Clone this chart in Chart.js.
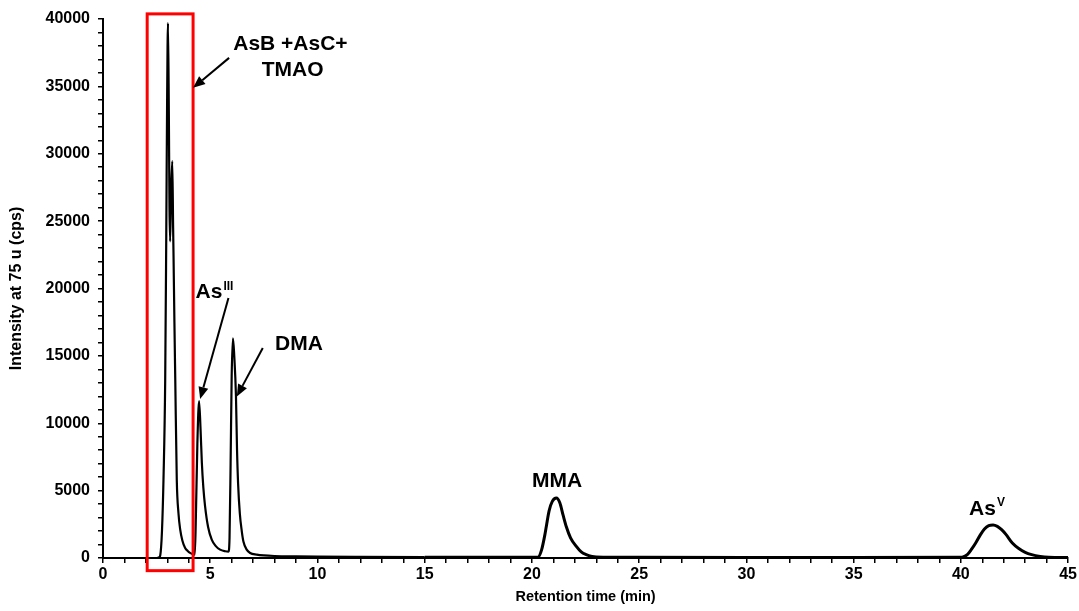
<!DOCTYPE html>
<html>
<head>
<meta charset="utf-8">
<script src="https://cdn.jsdelivr.net/npm/chart.js@4/dist/chart.umd.min.js"></script>
<style>
  html, body { margin: 0; padding: 0; background: #ffffff; }
  #wrap { width: 1079px; height: 611px; }
</style>
</head>
<body>
<div id="wrap"><canvas id="c" width="1079" height="611"></canvas></div>
<script>
// Retention time (min) and intensity at 75 u (cps)
const retentionTime = [
  0, 2.5, 2.62, 2.67, 2.75, 2.82, 2.9, 2.95, 2.99, 3.03, 3.07, 3.1, 3.13, 3.18, 3.23, 3.27, 3.29, 3.33, 3.37, 3.44, 3.52, 3.6, 3.7, 3.83, 3.95, 4.06, 4.2, 4.28,
  4.33, 4.4, 4.48, 4.55, 4.61, 4.68, 4.76, 4.9, 5.07, 5.25, 5.46, 5.7, 5.85,
  5.9, 5.95, 6.0, 6.06, 6.12, 6.2, 6.25, 6.3, 6.38, 6.47, 6.55, 6.7, 6.86, 7.17, 7.5, 8, 9, 10, 12, 15, 20,
  20.28, 20.45, 20.6, 20.67, 20.8, 20.95, 21.14, 21.3, 21.45, 21.6, 21.8, 22.07, 22.3, 22.53, 22.8, 23, 25, 30, 35, 40,
  40.07, 40.3, 40.5, 40.69, 40.9, 41.1, 41.3, 41.5, 41.7, 41.9, 42.1, 42.4, 42.7, 43.0, 43.3, 43.7, 44.1, 45
];
const intensity = [
  0, 0, 50, 200, 2000, 5800, 13200, 24000, 34000, 39700, 33000, 26000, 23500, 27500, 29450, 24500, 22300, 17500, 13200, 5800, 3300, 2100, 1300, 740, 520, 380, 280, 250,
  3000, 8500, 11650, 9500, 7050, 5200, 3830, 2300, 1360, 900, 620, 500, 470,
  1500, 7000, 13500, 16300, 15000, 12000, 8000, 5500, 3300, 2000, 1200, 620, 370, 250, 190, 150, 120, 100, 80, 60, 50,
  60, 600, 1700, 2340, 3500, 4200, 4450, 4100, 3200, 2340, 1500, 860, 450, 250, 120, 80, 50, 40, 40, 50,
  60, 250, 650, 1110, 1700, 2150, 2400, 2450, 2350, 2100, 1750, 1110, 700, 420, 250, 120, 60, 40
];
// Axis tick settings
const xMajorTicks = [0, 5, 10, 15, 20, 25, 30, 35, 40, 45];
const yMajorTicks = [0, 5000, 10000, 15000, 20000, 25000, 30000, 35000, 40000];

const FONT = "'Liberation Sans', Arial, sans-serif";

const annotationPlugin = {
  id: 'peakLabels',
  afterDatasetsDraw(chart) {
    const ctx = chart.ctx;
    const xs = chart.scales.x, ys = chart.scales.y;
    const px = v => xs.getPixelForValue(v);
    const py = v => ys.getPixelForValue(v);
    ctx.save();

    // red box around first peak group
    ctx.strokeStyle = '#ff0000';
    ctx.lineWidth = 3;
    const bx1 = px(2.06), bx2 = px(4.20), by1 = py(40380), by2 = py(-940);
    ctx.strokeRect(bx1, by1, bx2 - bx1, by2 - by1);

    function arrow(t1, v1, t2, v2) {
      const x1 = px(t1), y1 = py(v1), x2 = px(t2), y2 = py(v2);
      const ang = Math.atan2(y2 - y1, x2 - x1);
      const head = 12, half = 5;
      const bxp = x2 - head * Math.cos(ang), byp = y2 - head * Math.sin(ang);
      ctx.strokeStyle = '#000';
      ctx.lineWidth = 2;
      ctx.beginPath();
      ctx.moveTo(x1, y1);
      ctx.lineTo(bxp, byp);
      ctx.stroke();
      ctx.fillStyle = '#000';
      ctx.beginPath();
      ctx.moveTo(x2, y2);
      ctx.lineTo(bxp + half * Math.sin(ang), byp - half * Math.cos(ang));
      ctx.lineTo(bxp - half * Math.sin(ang), byp + half * Math.cos(ang));
      ctx.closePath();
      ctx.fill();
    }

    function label(text, sup, t, v) {
      ctx.font = "bold 21px " + FONT;
      ctx.fillStyle = '#000';
      ctx.textBaseline = 'middle';
      const w = ctx.measureText(text).width;
      let sw = 0;
      if (sup) {
        ctx.font = "bold 12px " + FONT;
        sw = ctx.measureText(sup).width + 1;
      }
      const cx = px(t), cy = py(v);
      const left = cx - (w + sw) / 2;
      ctx.font = "bold 21px " + FONT;
      ctx.textAlign = 'left';
      ctx.fillText(text, left, cy);
      if (sup) {
        ctx.font = "bold 12px " + FONT;
        ctx.fillText(sup, left + w + 1, cy - 6);
      }
    }

    label('AsB +AsC+', null, 8.74, 38115);
    label('TMAO', null, 8.84, 36165);
    arrow(5.88, 37115, 4.20, 34890);

    label('As', 'III', 5.2, 19700);
    arrow(5.85, 19290, 4.53, 11795);

    label('DMA', null, 9.14, 15880);
    arrow(7.45, 15580, 6.24, 11990);

    label('MMA', null, 21.17, 5735);
    label('As', 'V', 41.22, 3650);

    ctx.restore();
  }
};

new Chart(document.getElementById('c'), {
  type: 'line',
  data: {
    datasets: [{
      data: retentionTime.map((t, i) => ({ x: t, y: intensity[i] })),
      borderColor: '#000000',
      borderWidth: 2.2,
      pointRadius: 0,
      fill: false,
      cubicInterpolationMode: 'monotone',
      segment: {
        borderWidth: c => (c.p0.parsed.x >= 15 ? 3 : 2.2)
      }
    }]
  },
  options: {
    responsive: false,
    animation: false,
    devicePixelRatio: 1,
    layout: { padding: { top: 19, right: 10, left: 0, bottom: 0 } },
    plugins: { legend: { display: false }, tooltip: { enabled: false } },
    scales: {
      x: {
        type: 'linear',
        min: 0, max: 45,
        afterFit(scale) { scale.height = 53; },
        border: { display: true, color: '#000', width: 2 },
        grid: { display: true, drawOnChartArea: false, drawTicks: true, tickLength: 5, tickColor: '#000', lineWidth: 1.5 },
        ticks: {
          stepSize: 1, maxTicksLimit: 100, autoSkip: false, maxRotation: 0,
          padding: 2, color: '#000',
          font: { family: FONT, size: 16, weight: 'bold' },
          callback: v => xMajorTicks.includes(v) ? String(v) : ''
        },
        title: {
          display: true, text: 'Retention time (min)', color: '#000',
          font: { family: FONT, size: 14.5, weight: 'bold' },
          padding: { top: 0, bottom: 5 }
        }
      },
      y: {
        type: 'linear',
        min: 0, max: 40000,
        afterFit(scale) { scale.width = 103; },
        border: { display: true, color: '#000', width: 2 },
        grid: { display: true, drawOnChartArea: false, drawTicks: true, tickLength: 5, tickColor: '#000', lineWidth: 1.5 },
        ticks: {
          stepSize: 1000, maxTicksLimit: 100, autoSkip: false,
          padding: 8, color: '#000',
          font: { family: FONT, size: 16, weight: 'bold' },
          callback: v => yMajorTicks.includes(v) ? String(v) : ''
        },
        title: {
          display: true, text: 'Intensity at 75 u (cps)', color: '#000',
          font: { family: FONT, size: 16, weight: 'bold' },
          padding: { top: 7, bottom: 0 }
        }
      }
    }
  },
  plugins: [annotationPlugin]
});
</script>
</body>
</html>
